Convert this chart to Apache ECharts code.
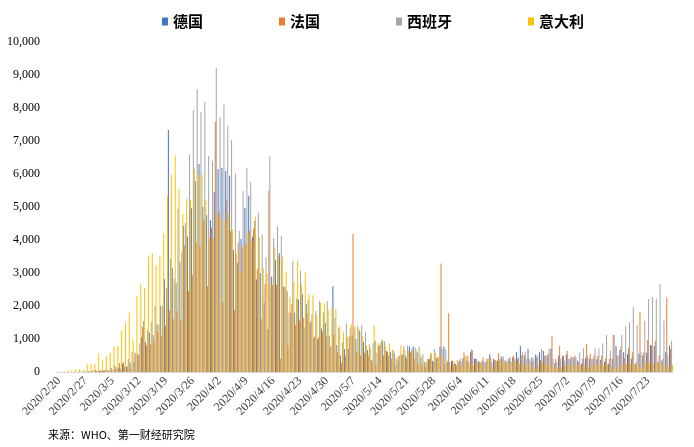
<!DOCTYPE html>
<html>
<head>
<meta charset="utf-8">
<script src="https://cdn.jsdelivr.net/npm/echarts@6/dist/echarts.min.js"></script>
<style>
  html, body { margin: 0; padding: 0; background: #fff; }
  #chart { width: 694px; height: 447px; }
</style>
</head>
<body>
<div id="chart"></div>
<script>
// 每日新增确诊（WHO）2020/2/20 - 2020/7/29
const startDate = new Date(2020, 1, 20)
const dayCount = 161
const dates = []
for (let i = 0; i < dayCount; i++) {
  const d = new Date(startDate.getFullYear(), startDate.getMonth(), startDate.getDate() + i)
  dates.push(d.getFullYear() + '/' + (d.getMonth() + 1) + '/' + d.getDate())
}

const seriesNames = ['德国', '法国', '西班牙', '意大利']

const germany = [
  0, 0, 0, 0, 0, 2, 10, 6, 21, 18,
  60, 30, 40, 60, 120, 200, 130, 240, 150, 280,
  300, 540, 1050, 900, 1200, 1120, 1450, 2000, 2820, 7330,
  3160, 2700, 3340, 4430, 4100, 4960, 5790, 6300, 5000, 4750,
  4600, 5450, 6150, 6190, 6090, 5950, 3700, 3300, 4030, 4980,
  5340, 4100, 2800, 3000, 2100, 1300, 2890, 3390, 3600, 2590,
  2450, 1800, 1800, 2200, 2360, 2060, 1500, 1040, 990, 1320,
  1480, 1100, 2600, 820, 500, 700, 700, 1100, 1000, 1240,
  900, 670, 360, 950, 800, 950, 640, 600, 570, 350,
  520, 500, 770, 770, 600, 450, 300, 390, 340, 420,
  770, 770, 300, 330, 250, 330, 420, 350, 600, 400,
  330, 330, 300, 540, 400, 330, 470, 350, 400, 450,
  600, 790, 500, 700, 450, 530, 600, 640, 500, 710,
  270, 500, 480, 530, 400, 450, 350, 250, 420,
  420, 400, 390, 360, 300, 250, 400, 780, 670, 600,
  540, 400, 240, 550, 500, 580, 820, 790, 310, 350,
  600, 800
]

const france = [
  0, 0, 0, 0, 0, 2, 4, 20, 19, 43,
  30, 43, 61, 13, 84, 92, 276, 296, 177, 83,
  575, 499, 1370, 800, 838, 924, 1210, 1097, 1404, 1861,
  1617, 1847, 1559, 3838, 2446, 2931, 3922, 3809, 4611, 2599,
  4376, 7578, 4861, 2116, 5233, 4267, 1873, 3912, 3777, 3881,
  4286, 4342, 3114, 1613, 2673, 5497, 2633, 2641, 405, 2569,
  785, 2051, 1433, 1560, 1642, 1773, 1537, 1073, 1052, 1218,
  1065, 758, 1139, 600, 270, 500, 1070, 4180, 600, 500,
  580, 500, 312, 200, 800, 500, 600, 400, 200, 500,
  520, 400, 600, 400, 250, 200, 150, 400, 300, 450,
  3290, 250, 1780, 350, 200, 400, 600, 500, 690, 400,
  300, 450, 400, 440, 350, 560, 400, 300, 450, 500,
  400, 500, 600, 400, 300, 450, 360, 500, 550, 1090,
  400, 790, 500, 640, 480, 500, 300, 400, 850,
  550, 500, 490, 500, 400, 400, 1130, 500, 780, 420,
  720, 600, 300, 1820, 600, 970, 800, 950, 500, 400,
  2260, 700
]

const spain = [
  0, 0, 0, 0, 0, 4, 7, 3, 17, 13,
  40, 36, 45, 57, 37, 141, 100, 173, 400, 622,
  582, 869, 1550, 1266, 1522, 2000, 1438, 1987, 2538, 3431,
  2833, 4946, 3646, 4517, 6584, 7937, 8578, 7871, 8189, 6549,
  6398, 9222, 7719, 8102, 7472, 7026, 6023, 4273, 5478, 6180,
  5756, 4576, 4830, 4167, 3477, 6540, 4050, 4420, 4120, 2590,
  1800, 3370, 2230, 3070, 1350, 2180, 1750, 1850, 2160, 1800,
  2150, 800, 1640, 1340, 900, 1480, 1330, 1340, 1400, 1420,
  1220, 840, 890, 600, 900, 930, 500, 670, 400, 500,
  770, 800, 690, 740, 770, 540, 300, 540, 700, 450,
  700, 690, 300, 240, 360, 300, 460, 300, 650, 400,
  290, 310, 420, 300, 360, 400, 480, 350, 300, 400,
  450, 600, 400, 350, 400, 500, 700, 500, 700, 400,
  300, 400, 350, 400, 450, 450, 600, 720, 500,
  400, 720, 720, 870, 1120, 650, 1120, 500, 1120, 1390,
  1500, 1960, 1420, 600, 1550, 2210, 2280, 2230, 2670, 1550,
  500, 940
]

const italy = [
  0, 17, 59, 71, 79, 93, 78, 250, 238, 240,
  566, 342, 466, 587, 769, 778, 1247, 1492, 1797, 977,
  2313, 2651, 2547, 3497, 3590, 3233, 3526, 4207, 5322, 5986,
  6557, 5560, 4789, 5249, 5210, 6153, 5959, 5974, 5217, 4050,
  4053, 4782, 4668, 4585, 4805, 4316, 3599, 3039, 3836, 4204,
  3951, 4694, 4092, 3153, 2972, 2667, 3786, 3493, 3491, 3047,
  2256, 2729, 3370, 2646, 3021, 2357, 2324, 1739, 2091, 2086,
  1872, 1965, 1900, 1389, 1221, 1075, 1444, 1401, 1327, 1083,
  802, 744, 1402, 888, 992, 789, 875, 675, 451, 813,
  665, 642, 652, 669, 531, 300, 397, 584, 593, 516,
  416, 355, 178, 318, 321, 177, 518, 270, 197, 280,
  283, 202, 379, 163, 346, 338, 301, 210, 328, 331,
  251, 262, 224, 218, 122, 190, 296, 259, 175, 174,
  126, 142, 187, 201, 223, 235, 192, 208, 138, 193,
  229, 276, 188, 234, 169, 114, 163, 230, 233, 249,
  219, 190, 129, 282, 306, 252, 275, 255, 170, 181,
  212
]

const colors = ['#4472C4', '#ED7D31', '#A5A5A5', '#FFC000']
const numFont = "'Liberation Serif', serif"

const myChart = echarts.init(document.getElementById('chart'))
myChart.setOption({
  animation: false,
  color: colors,
  legend: {
    data: seriesNames,
    top: 9,
    left: 157,
    icon: 'rect',
    itemWidth: 6,
    itemHeight: 8,
    itemGap: 76,
    textStyle: {
      fontFamily: 'Noto Sans CJK SC',
      fontSize: 15,
      fontWeight: 'bold',
      color: '#000'
    }
  },
  grid: {
    left: 57,
    right: 21,
    top: 42,
    bottom: 75
  },
  xAxis: {
    type: 'category',
    data: dates,
    axisLine: {
      lineStyle: { color: '#D9D9D9' }
    },
    axisTick: { show: false },
    axisLabel: {
      interval: 6,
      rotate: 45,
      margin: 7,
      color: '#404040',
      fontFamily: numFont,
      fontSize: 12
    }
  },
  yAxis: {
    type: 'value',
    min: 0,
    max: 10000,
    interval: 1000,
    axisLine: { show: false },
    axisTick: { show: false },
    splitLine: { show: false },
    axisLabel: {
      margin: 17,
      color: '#000',
      fontFamily: numFont,
      fontSize: 12,
      formatter: v => String(v).replace(/\B(?=(\d{3})+(?!\d))/g, ',')
    }
  },
  series: [
    { name: '德国', type: 'bar', data: germany, barGap: '0%', barCategoryGap: '6%' },
    { name: '法国', type: 'bar', data: france, barGap: '0%', barCategoryGap: '6%' },
    { name: '西班牙', type: 'bar', data: spain, barGap: '0%', barCategoryGap: '6%' },
    { name: '意大利', type: 'bar', data: italy, barGap: '0%', barCategoryGap: '6%' }
  ],
  graphic: [
    {
      type: 'text',
      left: 48,
      top: 429,
      style: {
        text: '来源：WHO、第一财经研究院',
        font: "11px 'Noto Sans CJK SC'",
        fill: '#000'
      }
    }
  ]
})
</script>
</body>
</html>
